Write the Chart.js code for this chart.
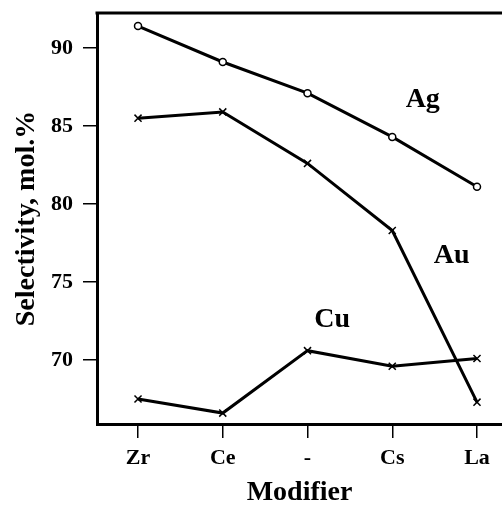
<!DOCTYPE html>
<html>
<head>
<meta charset="utf-8">
<script src="https://cdn.jsdelivr.net/npm/chart.js@4/dist/chart.umd.min.js"></script>
<style>
  html, body { margin: 0; padding: 0; background: #fff; }
  #wrap { width: 502px; height: 507px; }
</style>
</head>
<body>
<div id="wrap"><canvas id="chart" width="502" height="507"></canvas></div>
<script>
// Selectivity vs modifier
const modifiers = ['Zr', 'Ce', '-', 'Cs', 'La'];
const agValues = [91.4, 89.1, 87.1, 84.3, 81.1];
const auValues = [85.5, 85.9, 82.6, 78.3, 67.3];
const cuValues = [67.5, 66.6, 70.6, 69.6, 70.1];
const yTicks = [70, 75, 80, 85, 90];

const serif = "'Liberation Serif', 'DejaVu Serif', serif";

// series names written next to the curves
const seriesLabels = [
    { text: 'Ag', x: 3.36, y: 86.7 },
    { text: 'Au', x: 3.70, y: 76.7 },
    { text: 'Cu', x: 2.29, y: 72.6 }
];

function toPoints(values) {
    return values.map((v, i) => ({ x: i, y: v }));
}

const labelPlugin = {
    id: 'seriesLabels',
    afterDatasetsDraw(chart) {
        const ctx = chart.ctx;
        const xs = chart.scales.x;
        const ys = chart.scales.y;
        ctx.save();
        ctx.fillStyle = '#000';
        ctx.font = 'bold 28px ' + serif;
        ctx.textAlign = 'center';
        ctx.textBaseline = 'middle';
        seriesLabels.forEach(l => {
            ctx.fillText(l.text, xs.getPixelForValue(l.x), ys.getPixelForValue(l.y));
        });
        // top edge of the frame
        const area = chart.chartArea;
        ctx.strokeStyle = '#000';
        ctx.lineWidth = 3;
        ctx.beginPath();
        ctx.moveTo(area.left - 1.5, area.top);
        ctx.lineTo(area.right, area.top);
        ctx.stroke();
        ctx.restore();
    }
};

const lineStyle = {
    borderColor: '#000',
    backgroundColor: '#fff',
    borderWidth: 3,
    pointBorderColor: '#000',
    pointBorderWidth: 1.5,
    tension: 0
};

new Chart(document.getElementById('chart'), {
    type: 'line',
    data: {
        datasets: [
            Object.assign({ label: 'Ag', data: toPoints(agValues), pointStyle: 'circle', pointRadius: 3.5 }, lineStyle),
            Object.assign({ label: 'Au', data: toPoints(auValues), pointStyle: 'crossRot', pointRadius: 5 }, lineStyle),
            Object.assign({ label: 'Cu', data: toPoints(cuValues), pointStyle: 'crossRot', pointRadius: 5 }, lineStyle)
        ]
    },
    options: {
        responsive: false,
        animation: false,
        layout: { autoPadding: false, padding: { top: 13, right: 0, left: 0, bottom: 0 } },
        plugins: {
            legend: { display: false },
            tooltip: { enabled: false }
        },
        scales: {
            x: {
                type: 'linear',
                min: -0.484,
                max: 4.295,
                afterBuildTicks: axis => { axis.ticks = modifiers.map((m, i) => ({ value: i })); },
                afterFit: axis => {
                    axis.height = 83;
                    axis.paddingLeft = 0;
                    axis.paddingRight = 0;
                },
                ticks: {
                    callback: v => modifiers[v],
                    color: '#000',
                    font: { family: serif, size: 22, weight: 'bold' },
                    padding: 7,
                    maxRotation: 0
                },
                grid: { drawOnChartArea: false, drawTicks: true, tickLength: 14, color: '#000', lineWidth: 1.5 },
                border: { color: '#000', width: 3 },
                title: {
                    display: true,
                    text: 'Modifier',
                    color: '#000',
                    font: { family: serif, size: 28, weight: 'bold', lineHeight: 1 },
                    padding: { top: 0, bottom: 0 }
                }
            },
            y: {
                min: 65.9,
                max: 92.24,
                afterBuildTicks: axis => { axis.ticks = yTicks.map(v => ({ value: v })); },
                afterFit: axis => {
                    axis.width = 97;
                    axis.paddingTop = 0;
                    axis.paddingBottom = 0;
                },
                ticks: {
                    color: '#000',
                    font: { family: serif, size: 22, weight: 'bold' },
                    padding: 10
                },
                grid: { drawOnChartArea: false, drawTicks: true, tickLength: 14, color: '#000', lineWidth: 1.5 },
                border: { color: '#000', width: 3 },
                title: {
                    display: true,
                    text: 'Selectivity, mol.%',
                    color: '#000',
                    font: { family: serif, size: 28, weight: 'bold', lineHeight: 1 },
                    padding: { top: 13, bottom: 0 }
                }
            }
        }
    },
    plugins: [labelPlugin]
});
</script>
</body>
</html>
